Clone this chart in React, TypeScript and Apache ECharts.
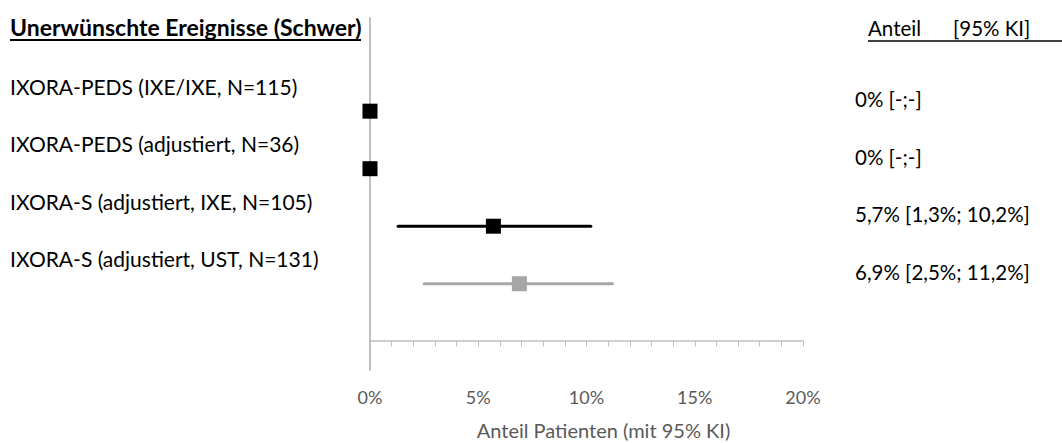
import React, { useEffect, useRef } from "react";
import * as echarts from "echarts";

const categories = [
  "IXORA-PEDS (IXE/IXE, N=115)",
  "IXORA-PEDS (adjustiert, N=36)",
  "IXORA-S (adjustiert, IXE, N=105)",
  "IXORA-S (adjustiert, UST, N=131)",
];
const estimates = [0, 0, 5.7, 6.9];
const lower: (number | null)[] = [null, null, 1.3, 2.5];
const upper: (number | null)[] = [null, null, 10.2, 11.2];
const ciLabels = ["0% [-;-]", "0% [-;-]", "5,7% [1,3%; 10,2%]", "6,9% [2,5%; 11,2%]"];
const rowPositions = [4, 3, 2, 1];
const rowColors = ["#000000", "#000000", "#000000", "#a6a6a6"];
const titleText = "Unerwünschte Ereignisse (Schwer)";
const headerLeft = "Anteil";
const headerRight = "[95% KI]";
const xAxisName = "Anteil Patienten (mit 95% KI)";

const FONT = "Lato";

export default function App() {
  const ref = useRef<HTMLDivElement>(null);
  useEffect(() => {
    document.body.style.margin = "0";
    const chart = echarts.init(ref.current!, null, { renderer: "svg" });
    const ciData = rowPositions
      .map((y, i) => (lower[i] != null ? [lower[i], upper[i], y, i] : null))
      .filter((d) => d !== null);
    const pointData = rowPositions.map((y, i) => ({
      value: [estimates[i], y],
      itemStyle: { color: rowColors[i], opacity: 1 },
    }));
    const labelData = rowPositions.map((y, i) => [0, y, i]);
    chart.setOption({
      animation: false,
      grid: { left: 370, right: 259, top: 18, bottom: 73, containLabel: false, outerBoundsMode: "none" },
      xAxis: {
        type: "value",
        min: 0,
        max: 20,
        interval: 5,
        axisLine: { show: true, onZero: true, lineStyle: { color: "#bfbfbf", width: 1.5 } },
        axisTick: { show: true, length: 5, lineStyle: { color: "#bfbfbf" } },
        minorTick: { show: true, splitNumber: 5, length: 5, lineStyle: { color: "#bfbfbf" } },
        splitLine: { show: false },
        minorSplitLine: { show: false },
        axisLabel: {
          formatter: "{value}%",
          margin: 18,
          color: "#595959",
          fontFamily: FONT,
          fontSize: 18,
        },
        name: xAxisName,
        nameLocation: "middle",
        nameGap: 50,
        nameTextStyle: { color: "#595959", fontFamily: FONT, fontSize: 20, padding: [0, 0, 0, 34] },
      },
      yAxis: {
        type: "value",
        min: -0.5,
        max: 5.62,
        axisLine: { show: true, onZero: false, lineStyle: { color: "#bfbfbf", width: 2 } },
        axisTick: { show: false },
        axisLabel: { show: false },
        splitLine: { show: false },
      },
      graphic: [
        {
          type: "text",
          x: 10,
          y: 27,
          style: { text: titleText, font: `bold 23px ${FONT}`, fill: "#000", verticalAlign: "middle" },
        },
        { type: "line", shape: { x1: 10, y1: 40, x2: 361, y2: 40 }, style: { stroke: "#000", lineWidth: 2 } },
        {
          type: "text",
          x: 868,
          y: 28,
          style: { text: headerLeft, font: `20.5px ${FONT}`, fill: "#000", verticalAlign: "middle" },
        },
        {
          type: "text",
          x: 953,
          y: 28,
          style: { text: headerRight, font: `20.5px ${FONT}`, fill: "#000", verticalAlign: "middle" },
        },
        { type: "line", shape: { x1: 868, y1: 41, x2: 1062, y2: 41 }, style: { stroke: "#000", lineWidth: 1.5 } },
      ],
      series: [
        {
          type: "custom",
          clip: false,
          data: ciData,
          encode: { x: [0, 1], y: 2 },
          renderItem: (params: any, api: any) => {
            const y = api.value(2);
            const s = api.coord([api.value(0), y]);
            const e = api.coord([api.value(1), y]);
            const idx = api.value(3);
            return {
              type: "line",
              shape: { x1: s[0], y1: s[1], x2: e[0], y2: e[1] },
              style: { stroke: rowColors[idx], lineWidth: 3, lineCap: "round" },
            };
          },
          z: 2,
        },
        {
          type: "scatter",
          symbol: "rect",
          symbolSize: 15,
          data: pointData,
          clip: false,
          z: 3,
        },
        {
          type: "custom",
          clip: false,
          data: labelData,
          encode: { x: 0, y: 1 },
          renderItem: (params: any, api: any) => {
            const p = api.coord([api.value(0), api.value(1)]);
            const idx = api.value(2);
            return {
              type: "group",
              children: [
                {
                  type: "text",
                  x: 10,
                  y: p[1] - 25,
                  style: {
                    text: categories[idx],
                    font: `21px ${FONT}`,
                    fill: "#000",
                    verticalAlign: "middle",
                    align: "left",
                  },
                },
                {
                  type: "text",
                  x: 855,
                  y: p[1] - 12,
                  style: {
                    text: ciLabels[idx],
                    font: `20.5px ${FONT}`,
                    fill: "#000",
                    verticalAlign: "middle",
                    align: "left",
                  },
                },
              ],
            };
          },
        },
      ],
    });
    return () => chart.dispose();
  }, []);
  return <div ref={ref} style={{ width: 1062, height: 443 }} />;
}
